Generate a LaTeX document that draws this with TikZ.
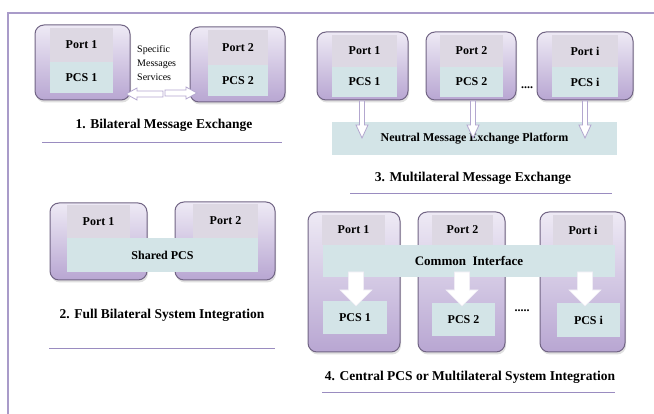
\documentclass[tikz,border=0pt]{standalone}
\usepackage{fontspec}
\setmainfont{Liberation Serif}
\usetikzlibrary{shadows}
\definecolor{framec}{HTML}{A99BC9}
\definecolor{boxtop}{HTML}{EEEAF5}
\definecolor{boxbot}{HTML}{B8A6D2}
\definecolor{boxline}{HTML}{716484}
\definecolor{portfill}{HTML}{DDD8E3}
\definecolor{pcsfill}{HTML}{D3E4E7}
\definecolor{arrline}{HTML}{B3A7CF}
\definecolor{rulec}{HTML}{9A8CC0}
\newcommand\bfont{\bfseries\fontsize{12}{14}\selectfont}
\newcommand\tfont{\bfseries\fontsize{13.5}{16}\selectfont}
% rectangle node helper: style, name, x1, y1, x2, y2, text
\newcommand\rectnode[7]{\node[#1, minimum width={(#5-#3)*1pt}, minimum height={(#6-#4)*1pt}] (#2) at (#3,#4) {#7};}
% vertical block arrow: style, x, ytail, ytip, shaft half width, head half width, head length
\newcommand\varrow[7]{\draw[#1] ({#2-#5},#3) -- ({#2+#5},#3) -- ({#2+#5},{#4-#7}) -- ({#2+#6},{#4-#7}) -- (#2,#4) -- ({#2-#6},{#4-#7}) -- ({#2-#5},{#4-#7}) -- cycle;}
% horizontal block arrow: style, y, xtail, xtip, shaft half width, head half width, signed head length
\newcommand\harrow[7]{\draw[#1] (#3,{#2-#5}) -- (#3,{#2+#5}) -- ({#4-#7},{#2+#5}) -- ({#4-#7},{#2+#6}) -- (#4,#2) -- ({#4-#7},{#2-#6}) -- ({#4-#7},{#2-#5}) -- cycle;}
\tikzset{
  portbox/.style={draw=boxline, line width=1pt, rounded corners=9pt, top color=boxtop, bottom color=boxbot,
    anchor=north west, inner sep=0pt, outer sep=0pt,
    drop shadow={opacity=0.25, shadow xshift=1pt, shadow yshift=-2.5pt}},
  portsec/.style={fill=portfill, anchor=north west, inner sep=0pt, outer sep=0pt, font=\bfont},
  pcssec/.style={fill=pcsfill, anchor=north west, inner sep=0pt, outer sep=0pt, font=\bfont},
  titletext/.style={font=\tfont},
  rulel/.style={draw=rulec, line width=0.9pt},
  blockarrow/.style={draw=arrline, fill=white, line width=0.8pt, line join=miter},
  bigarrow/.style={draw=white!80!arrline, fill=white, line width=0.6pt, line join=miter},
}
\begin{document}
\begin{tikzpicture}[x=1pt,y=-1pt]
\useasboundingbox (0,0) rectangle (654,414);
\fill[white] (0,0) rectangle (654,414);
% frame
\coordinate (ftl) at (8,13);
\coordinate (ftr) at (654,13);
\coordinate (fbl) at (8,414);
\draw[framec, line width=2pt] (ftr) -- (ftl) -- (fbl);

% ---------- Panel 1 ----------
\rectnode{portbox}{a1}{35}{25}{130}{100}{}
\rectnode{portsec}{a1p}{50}{28}{113}{62}{Port 1}
\rectnode{pcssec}{a1c}{50}{62}{113}{93}{PCS 1}
\rectnode{portbox}{a2}{190}{27}{285}{102}{}
\rectnode{portsec}{a2p}{208}{30}{268}{65}{Port 2}
\rectnode{pcssec}{a2c}{208}{65}{268}{96}{PCS 2}
\node[anchor=west, align=left, inner sep=0pt, font=\fontsize{10}{14}\selectfont] (spec) at (137,63) {Specific\\Messages\\Services};
\harrow{blockarrow}{94}{163}{126}{3}{6}{-11}
\harrow{blockarrow}{93}{165}{197}{3}{6}{11}
\node[titletext] (t1) at (164,125) {1. Bilateral Message Exchange};
\coordinate (l1a) at (42,142); \coordinate (l1b) at (282,142);
\draw[rulel] (l1a) -- (l1b);

% ---------- Panel 3 ----------
\rectnode{portbox}{b1}{317}{32}{408}{100}{}
\rectnode{portsec}{b1p}{332}{35}{397}{67}{Port 1}
\rectnode{pcssec}{b1c}{332}{67}{397}{97}{PCS 1}
\rectnode{portbox}{b2}{426}{32}{516}{100}{}
\rectnode{portsec}{b2p}{440}{35}{503}{67}{Port 2}
\rectnode{pcssec}{b2c}{440}{67}{503}{97}{PCS 2}
\rectnode{portbox}{b3}{537}{32}{633}{100}{}
\rectnode{portsec}{b3p}{552}{35}{618}{67}{Port i}
\rectnode{pcssec}{b3c}{552}{67}{618}{97}{PCS i}
\node[font=\bfont, inner sep=0pt] (dots3) at (527,88) {....};
\rectnode{pcssec}{plat}{332}{122}{617}{155}{Neutral Message Exchange Platform}
\foreach \x in {362,473,585}{
  \varrow{blockarrow}{\x}{101}{138}{2.5}{6}{13}
}
\node[titletext] (t3) at (473,178) {3. Multilateral Message Exchange};
\coordinate (l3a) at (350,193); \coordinate (l3b) at (612,193);
\draw[rulel] (l3a) -- (l3b);

% ---------- Panel 2 ----------
\rectnode{portbox}{c1}{50}{203}{147}{280}{}
\rectnode{portsec}{c1p}{67}{205}{130}{238}{Port 1}
\rectnode{portbox}{c2}{175}{202}{275}{280}{}
\rectnode{portsec}{c2p}{193}{204}{258}{238}{Port 2}
\rectnode{pcssec}{shared}{67}{238}{258}{272}{Shared PCS}
\node[titletext] (t2) at (162,315) {2. Full Bilateral System Integration};
\coordinate (l2a) at (49,348); \coordinate (l2b) at (275,348);
\draw[rulel] (l2a) -- (l2b);

% ---------- Panel 4 ----------
\rectnode{portbox}{e1}{308}{212}{400}{352}{}
\rectnode{portsec}{e1p}{322}{215}{385}{245}{Port 1}
\rectnode{portbox}{e2}{418}{212}{505}{352}{}
\rectnode{portsec}{e2p}{432}{215}{493}{245}{Port 2}
\rectnode{portbox}{e3}{540}{212}{625}{352}{}
\rectnode{portsec}{e3p}{553}{215}{613}{245}{Port i}
\rectnode{pcssec}{common}{323}{245}{615}{277}{\fontsize{13}{15}\selectfont Common\ \ Interface}
\rectnode{pcssec}{e1c}{323}{301}{387}{334}{PCS 1}
\rectnode{pcssec}{e2c}{432}{303}{495}{336}{PCS 2}
\rectnode{pcssec}{e3c}{557}{303}{620}{337}{PCS i}
\foreach \x in {356,462,585}{
  \varrow{bigarrow}{\x}{272}{306}{7.5}{16}{16}
}
\node[font=\bfont, inner sep=0pt] (dots4) at (522,311) {.....};
\node[titletext] (t4) at (470,377) {4. Central PCS or Multilateral System Integration};
\coordinate (l4a) at (322,392); \coordinate (l4b) at (615,392);
\draw[rulel] (l4a) -- (l4b);
\end{tikzpicture}
\end{document}
